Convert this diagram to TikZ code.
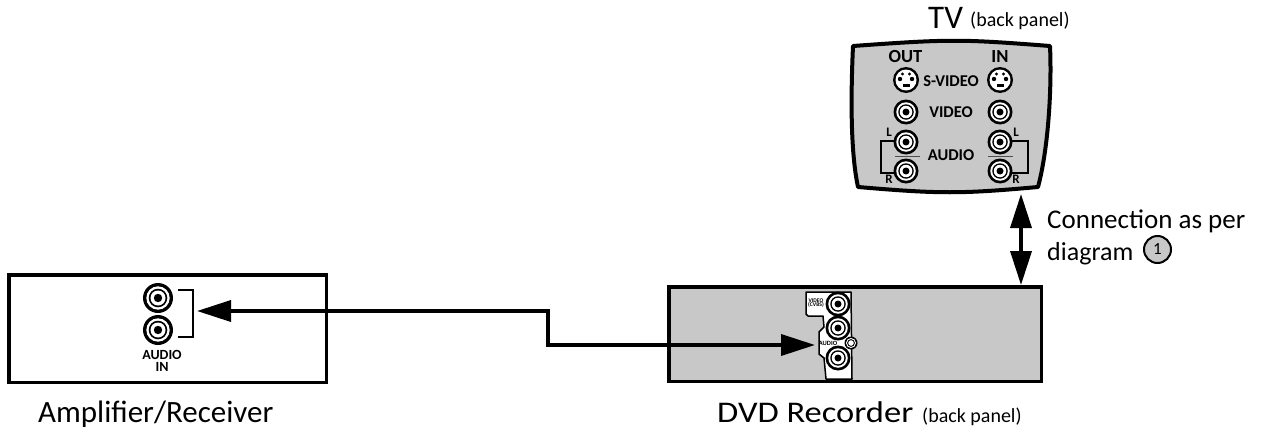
\documentclass[tikz,border=0pt]{standalone}
\usepackage{fontspec}
\setmainfont{Carlito}
\newfontfamily\widefont[FakeStretch=1.15]{Carlito}
\usetikzlibrary{arrows.meta}
\definecolor{panel}{HTML}{C8C8C8}
\tikzset{
  x=1pt,y=-1pt,
  box/.style={draw=black,line width=3.5pt},
  link/.style={line width=3.6pt,draw=black,line join=miter},
  headend/.style={-{Triangle[length=34pt,width=21pt]}},
  headboth/.style={{Triangle[length=34pt,width=21pt]}-{Triangle[length=34pt,width=21pt]}},
  big/.style={inner sep=0pt,anchor=base west,font=\fontsize{27}{27}\selectfont},
  small/.style={inner sep=0pt,anchor=base west,font=\fontsize{20}{20}\selectfont},
  lbl/.style={inner sep=0pt,font=\fontsize{#1}{#1}\selectfont\bfseries},
  lbl/.default=16.5,
  thin bracket/.style={draw=black,line width=1.5pt},
  pics/rca/.style={code={
    \fill[black] (0,0) circle (#1);
    \fill[white] (0,0) circle (0.78*#1);
    \fill[black] (0,0) circle (0.62*#1);
    \fill[white] (0,0) circle (0.50*#1);
    \fill[black] (0,0) circle (0.28*#1);
  }},
  pics/svideo/.style={code={
    \fill[black] (0,0) circle (13);
    \fill[white] (0,0) circle (10.5);
    \fill[black] (-6,-1) circle (2.2) (6,-1) circle (2.2) (-3.5,-6) circle (1.6) (3.5,-6) circle (1.6);
    \fill[black] (-3.5,4) rectangle (3.5,7);
  }}
}
\begin{document}
\begin{tikzpicture}
\useasboundingbox (0,0) rectangle (1264,431);
% TV
\draw[box,fill=panel,line width=4pt,line join=round] (853,46)
  .. controls (950,39) and (960,39) .. (1050,46)
  .. controls (1052,90) and (1048,150) .. (1038,187)
  .. controls (960,194) and (940,194) .. (858,187)
  .. controls (850,150) and (851,90) .. (853,46) -- cycle;
\node[big,font=\fontsize{33}{33}\selectfont] (tvname) at (928,28) {TV};
\node[small] (tvnote) at (970,27) {(back panel)};
\node[lbl=18.5] (out) at (905.5,57) {OUT};
\node[lbl=18.5] (in) at (1000,57) {IN};
\node[lbl] (sv) at (951,81) {S-VIDEO};
\node[lbl] (vd) at (951,112) {VIDEO};
\node[lbl] (au) at (951,155) {AUDIO};
\draw[thin bracket] (895,141) -- (881,141) -- (881,173) -- (895,173);
\draw[thin bracket] (1011,141) -- (1028,141) -- (1028,173) -- (1011,173);
\draw[line width=1pt,black!70] (895,156) -- (920,156) (988,156) -- (1013,156);
\pic at (906,80) {svideo};
\pic at (1000,80) {svideo};
\pic at (906,112) {rca=12.5};
\pic at (1000,112) {rca=12.5};
\pic at (906,142) {rca=12.5};
\pic at (1000,142) {rca=12.5};
\pic at (906,171) {rca=12.5};
\pic at (1000,171) {rca=12.5};
\node[lbl=13] (ll) at (889,132) {L};
\node[lbl=13] (rl) at (889,179) {R};
\node[lbl=13] (lr) at (1016,132) {L};
\node[lbl=13] (rr) at (1016,179) {R};
\coordinate (tvport) at (1021,194);
% DVD
\node[box,fill=panel,minimum width=372.5pt,minimum height=94.5pt,inner sep=0pt,anchor=north west] (dvd) at (667,285) {};
\coordinate (dvdport) at (1021,285);
\draw[fill=white,line width=1.5pt,line join=round] (806,292) -- (851,292) -- (852,379) -- (826,379) -- (824,358) -- (819,354) -- (819,332) -- (824,327) -- (823,316) -- (808,316) -- (806,314) -- cycle;
\pic at (838,304) {rca=12.5};
\pic at (838,328) {rca=12.5};
\pic at (838,358) {rca=12.5};
\fill[black] (851,343) circle (6.5);
\fill[white] (851,343) circle (5);
\draw[line width=0.9pt] (851,343) circle (3.4);
\node[lbl=5.6,align=center] (vc) at (816,303) {VIDEO\\[-1pt](CVBS)};
\node[lbl=6.5] (da) at (828,343) {AUDIO};
\coordinate (dvdaudio) at (815,345);
% Amp
\node[box,fill=white,minimum width=317.5pt,minimum height=107.5pt,inner sep=0pt,anchor=north west] (amp) at (7,273) {};
\pic at (158,298) {rca=15};
\pic at (158,330) {rca=15};
\draw[thin bracket] (178,290) -- (193,290) -- (193,337) -- (178,337);
\node[lbl=14] (ai) at (162,355) {AUDIO};
\node[lbl=14] (ai2) at (162,367) {IN};
\coordinate (ampin) at (197,311);
% connectors
\draw[link,headend] (548,311) -- (ampin);
\draw[link,headend] (548,309.2) -- (548,345) -- (dvdaudio);
\draw[link,headboth] (tvport) -- (dvdport);
% labels
\node[big] (c1) at (1047,228) {Connection as per};
\node[big,font=\fontsize{26}{26}\selectfont] (c2) at (1047,260) {diagram};
\node[draw=black,line width=2pt,fill=panel,circle,minimum size=27pt,inner sep=0pt,font=\fontsize{17}{17}\selectfont] (n1) at (1157.5,249.5) {1};
\node[big,font=\fontsize{31}{31}\selectfont] (a1) at (38,422) {Amplifier/Receiver};
\node[big,font=\widefont\fontsize{30}{30}\selectfont] (d1) at (717,422) {DVD Recorder};
\node[small] (d2) at (922,422) {(back panel)};
\end{tikzpicture}
\end{document}
